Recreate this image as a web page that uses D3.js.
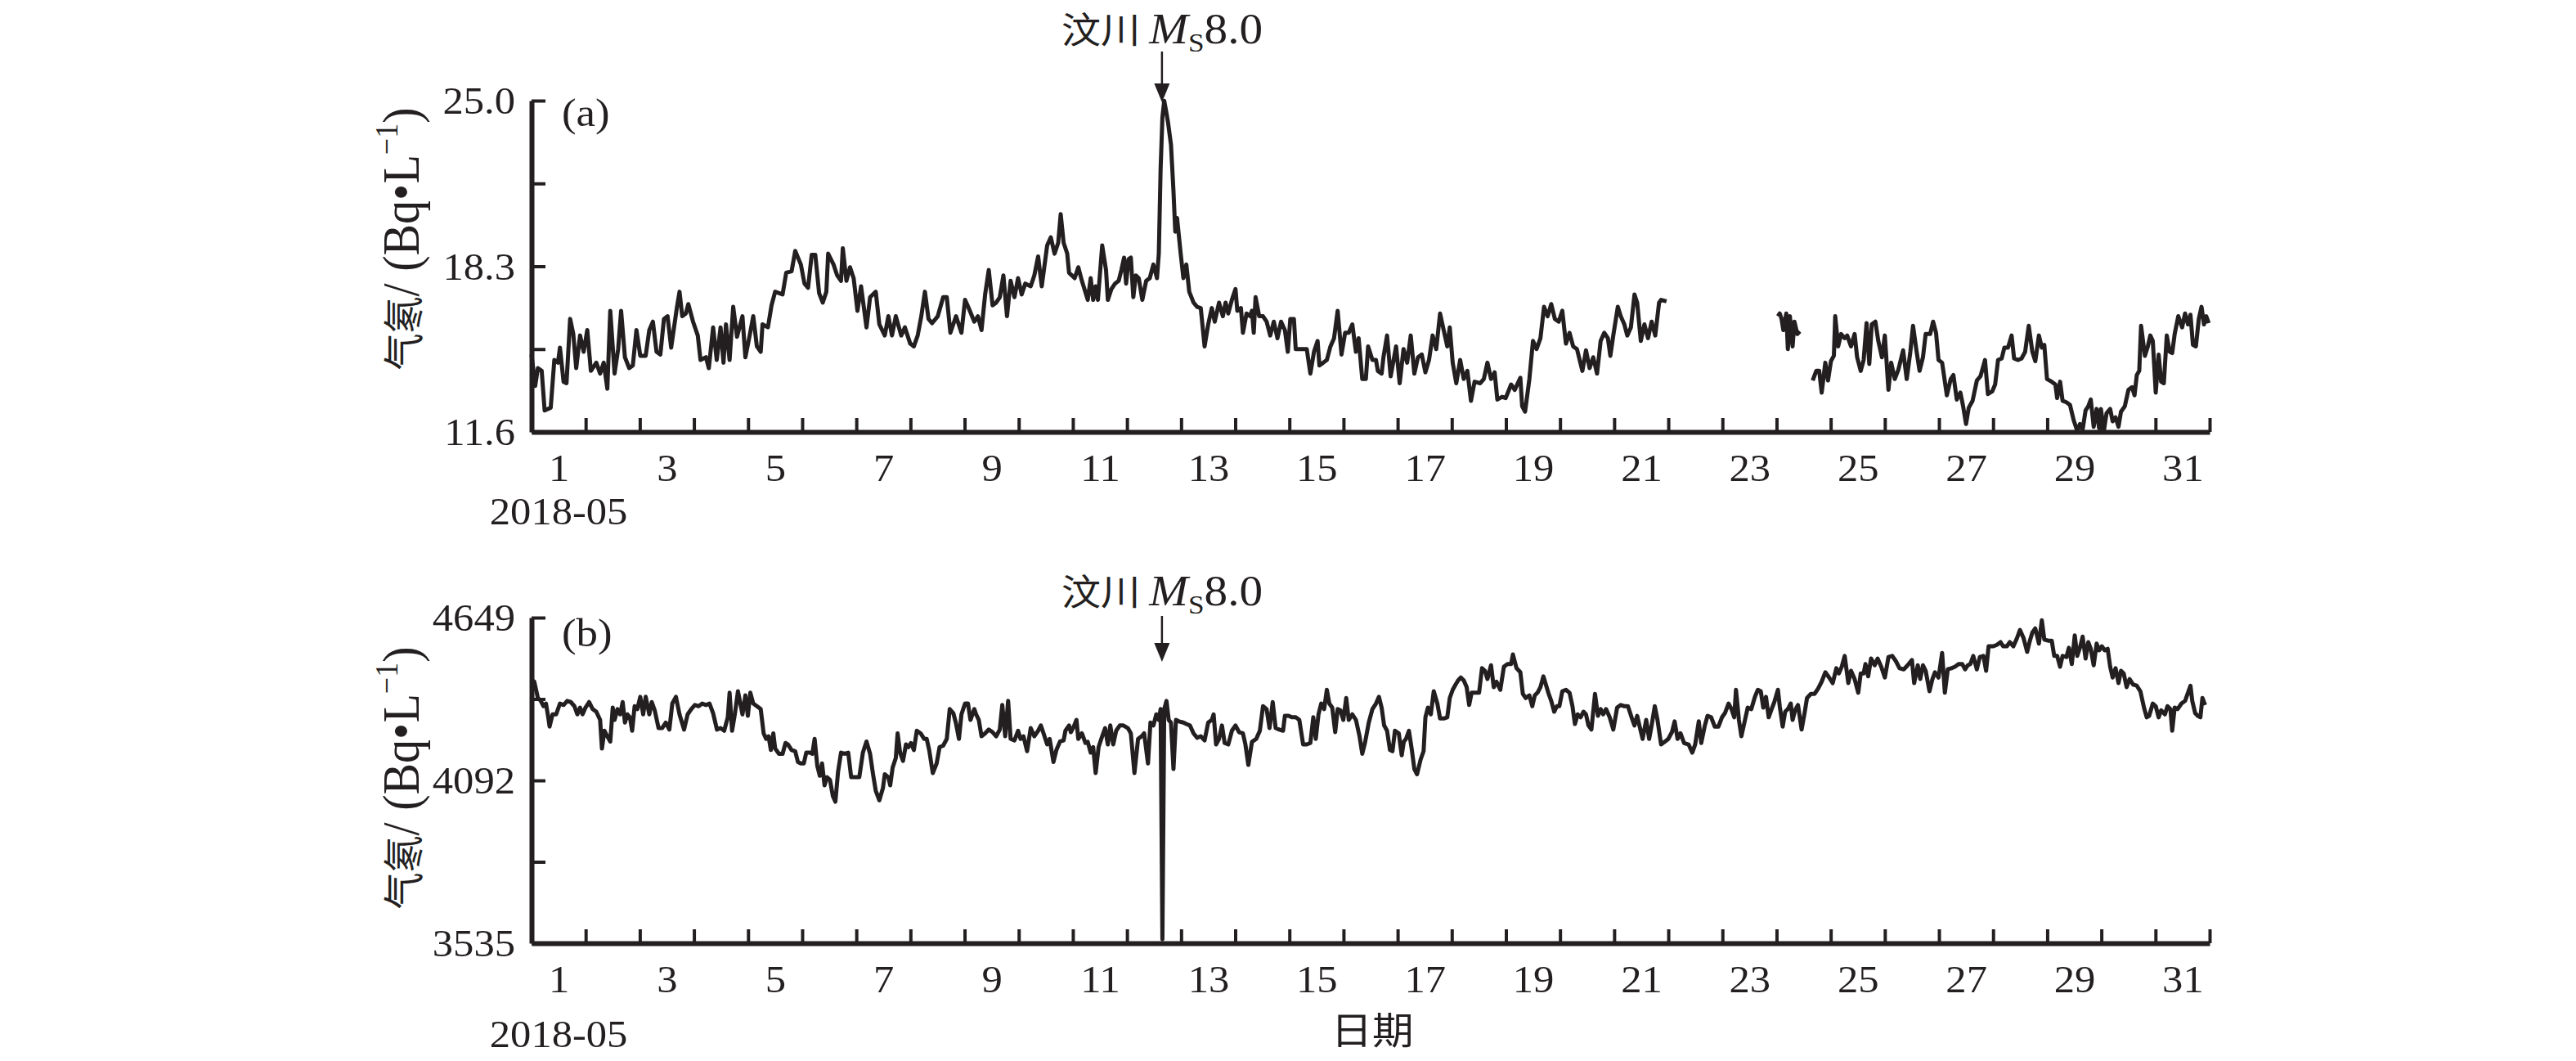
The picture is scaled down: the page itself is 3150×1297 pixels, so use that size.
<!DOCTYPE html>
<html><head><meta charset="utf-8">
<script src="https://cdn.jsdelivr.net/npm/d3@7"></script>
<style>body{margin:0;background:#fff}</style>
</head><body>
<svg id="c" width="3150" height="1297"></svg>
<script>
// ---------- DATA (hours since 2018-05-01 00:00) ----------
const hoursA = [0,1.6,2.8,4.5,5.8,8.5,10.1,11.7,12.6,14.2,15.5,17.1,18.5,19.8,21.5,23.1,24.7,26.3,28.7,30.4,32.0,33.6,34.9,36.8,38.4,39.7,41.4,43.3,44.9,46.5,48.2,50.6,52.2,53.8,55.4,57.1,58.7,60.3,61.9,64.4,65.6,66.8,68.4,69.5,71.6,73.7,74.9,77.3,78.6,80.5,82.1,83.8,85.1,86.2,87.8,89.4,91.1,93.5,94.8,96.7,98.3,99.9,101.6,102.4,104.8,106.4,108.0,111.3,112.9,115.3,116.9,119.4,121.0,122.6,124.2,125.8,127.5,129.1,130.7,131.5,133.9,135.5,137.2,138.0,139.6,141.2,142.8,144.5,146.1,148.5,150.1,152.6,154.2,156.6,158.2,159.8,161.5,163.9,165.5,167.9,169.5,171.2,172.8,174.4,176.0,177.6,180.1,182.5,184.1,185.7,188.2,190.6,192.2,193.8,196.3,197.9,199.5,201.1,202.7,204.4,206.0,207.6,209.2,210.8,212.4,214.1,215.7,217.3,218.9,221.3,222.9,224.6,226.2,228.6,230.2,231.9,233.5,234.6,235.9,237.5,238.3,240.8,242.4,244.0,
246.6,247.9,249.0,250.1,251.1,253.0,254.7,255.5,257.1,258.7,260.3,261.5,262.7,263.6,264.7,265.7,266.8,267.9,269.2,270.8,272.5,274.1,275.7,277.3,278.1,278.9,279.7,280.5,281.4,282.2,283.5,284.6,285.4,286.2,287.8,289.0,290.3,291.6,293.5,295.1,296.7,298.4,300.0,301.6,302.9,304.8,306.5,307.7,308.9,310.5,312.1,312.9,314.5,315.4,317.0,318.6,319.4,320.2,321.0,322.6,324.3,325.9,327.5,329.1,330.7,332.3,334.0,335.3,336.4,338.0,338.8,341.2,343.7,345.3,346.9,348.5,349.3,351.0,352.6,354.2,355.8,357.4,359.1,360.7,362.3,363.9,365.5,366.7,368.3,369.9,370.9,372.8,374.4,375.2,376.9,377.7,379.3,380.9,383.3,384.9,386.6,388.2,389.8,391.4,393.0,394.7,396.3,397.9,399.5,401.1,402.8,404.4,406.0,407.1,408.4,410.0,411.7,413.3,414.9,416.5,418.1,420.6,422.2,423.8,425.4,427.0,428.2,430.3,431.9,434.3,435.9,438.4,439.2,440.5,442.4,444.0,445.6,447.3,448.9,450.5,452.1,453.7,455.4,457.0,458.6,460.2,461.8,463.5,465.9,467.5,469.1,470.7,472.4,474.0,475.6,477.2,478.3,479.6,481.6,482.9,484.5,485.8,487.4,489.0,490.2,491.8,493.4,495.0,496.6,498.2,499.9,500.8,503.2,
528,
552.6,553.4,554.2,555.0,556.3,557.0,557.9,559.1,559.9,561.2,562.3,
565,
568.0,569.6,570.9,572.0,573.6,574.8,576.1,577.4,578.0,579.3,580.6,582.2,583.3,585.0,586.6,587.7,589.3,590.6,591.9,593.1,594.2,595.8,597.1,598.7,600.0,601.6,602.8,604.4,606.0,608.1,609.7,611.3,612.5,614.1,615.4,616.9,618.1,620.1,621.4,622.7,623.8,625.4,627.5,629.2,630.4,631.9,633.5,634.7,636.0,637.2,638.9,640.8,642.4,644.4,645.7,647.6,648.9,650.2,651.8,653.0,654.6,656.2,657.3,659.1,660.6,662.2,663.8,665.4,666.7,668.3,669.6,670.7,671.9,674.0,675.6,676.4,677.7,678.8,680.5,682.1,683.7,685.3,686.5,687.7,689.0,690.2,691.3,692.6,693.9,695.0,695.8,697.1,698.3,699.9,701.0,702.3,703.6,704.7,706.4,708.0,709.6,710.7,711.7,712.8,713.6,715.3,716.6,717.7,718.8,720.1,721.4,722.5,723.7,725.0,726.3,727.4,728.5,730.1,731.8,733.1,734.4,735.5,736.6,737.9,739.2,740.4,741.5,742.5,743.6];
const radonA = [14.73,13.46,14.18,14.07,12.47,12.58,14.51,14.40,15.01,13.63,13.57,16.17,15.56,14.18,15.50,14.84,15.72,14.07,14.40,13.96,14.40,13.35,16.50,13.96,14.95,16.50,14.62,14.18,14.29,15.72,14.68,14.68,15.72,16.06,14.84,14.73,16.17,16.28,15.01,16.61,17.27,16.28,16.39,16.77,16.06,15.50,14.51,14.62,14.18,15.83,14.51,15.83,14.40,15.95,14.51,16.66,15.45,16.28,14.62,15.50,16.28,15.06,14.84,15.95,15.83,16.72,17.27,17.16,18.04,18.10,18.92,18.37,17.60,17.43,18.76,18.76,17.21,16.83,17.27,18.81,18.37,17.93,17.71,19.03,17.71,18.26,17.82,16.50,17.49,15.83,17.05,17.27,15.95,15.50,16.28,15.50,16.28,15.50,15.83,15.17,15.06,15.50,16.28,17.27,16.17,16.00,16.28,17.05,17.05,15.61,16.28,15.61,16.94,16.61,16.06,16.28,15.72,17.16,18.15,16.72,16.83,17.05,17.93,16.28,17.71,17.05,17.82,17.16,17.60,17.49,17.93,18.70,17.49,19.14,19.47,18.81,19.25,20.41,19.25,18.81,18.04,17.82,18.26,17.71,
16.94,17.82,16.94,17.49,16.94,19.14,18.15,16.94,17.38,17.60,17.71,18.15,18.65,17.60,18.59,18.65,17.05,17.93,17.82,16.94,17.71,17.82,18.37,17.82,18.81,22.23,24.33,24.99,24.55,24.11,23.22,21.35,19.70,20.25,18.81,17.82,18.37,17.27,16.83,16.66,16.61,15.06,15.95,16.61,16.06,16.83,16.28,16.83,16.39,16.94,17.38,16.50,16.61,15.61,16.39,16.28,16.50,15.61,17.05,16.28,16.28,16.06,15.50,16.06,15.39,16.06,15.72,14.84,16.17,16.17,14.95,14.95,14.95,13.96,14.84,15.28,14.29,14.40,14.51,15.06,15.39,16.50,14.73,15.61,15.61,15.95,14.84,15.39,13.74,13.74,15.06,14.51,14.51,14.07,13.96,14.62,15.50,13.85,15.06,13.57,14.95,14.40,15.50,13.96,14.62,14.73,14.01,14.51,15.50,14.95,16.39,15.72,15.06,15.83,14.40,13.57,14.51,13.74,14.07,12.86,13.63,13.57,13.74,14.40,13.74,14.01,12.91,13.02,12.97,13.52,13.30,13.79,12.64,12.42,13.74,15.28,14.95,15.39,16.66,16.28,16.77,16.17,16.06,16.50,15.17,15.61,15.06,14.95,14.07,14.90,14.18,14.62,13.96,15.28,15.61,15.39,14.68,15.50,16.66,16.28,15.95,15.50,15.83,17.16,16.83,15.28,15.95,15.39,16.06,15.50,16.83,16.94,16.88,
null,
16.28,16.39,16.17,15.72,16.39,14.95,16.28,15.06,16.06,15.56,15.67,
null,
13.68,14.07,14.07,13.19,14.40,13.68,14.46,14.68,16.28,15.06,15.56,15.39,15.50,15.06,15.56,14.62,14.07,14.51,16.00,14.35,15.95,16.06,15.28,14.62,15.50,13.30,14.40,13.74,14.12,14.90,13.74,14.84,15.89,14.84,14.07,14.62,15.56,15.56,16.06,15.61,14.51,14.40,13.08,13.74,13.90,12.91,13.19,12.64,11.92,12.58,12.86,13.68,13.85,14.51,13.13,13.24,13.52,14.51,14.57,15.01,15.01,15.50,14.57,14.51,14.57,14.84,15.89,14.84,14.46,15.50,15.01,15.12,13.74,13.63,13.52,12.97,13.63,12.86,12.80,12.69,12.08,11.64,11.92,11.70,12.47,12.64,12.91,11.81,12.53,11.75,12.53,11.64,12.36,12.53,12.03,12.19,11.81,12.42,12.64,13.30,13.41,13.08,13.90,14.07,15.89,14.68,15.06,15.50,15.28,13.19,14.73,13.63,13.57,15.50,14.84,14.79,15.56,16.28,15.83,16.39,15.95,16.34,15.12,15.06,16.17,16.66,15.95,16.28,16.00];

const hoursB = [0,1.2,2.0,2.8,4.1,5.3,6.4,7.4,8.0,9.3,10.9,12.6,14.2,15.8,17.4,19.0,20.3,21.5,22.6,23.9,25.5,27.1,28.7,30.4,31.2,32.3,33.6,34.9,36.0,36.8,38.1,39.3,40.4,41.4,42.5,43.6,44.6,45.7,46.9,48.2,49.5,50.6,52.2,53.3,54.6,56.3,57.9,59.5,61.1,62.4,64.0,65.6,67.6,69.2,70.8,72.4,74.1,75.7,77.3,78.9,80.5,82.2,83.8,85.4,87.0,87.8,88.9,90.2,91.5,92.7,93.5,94.8,95.9,97.0,98.3,99.9,101.6,102.9,104.0,105.1,106.1,107.2,108.0,109.7,111.3,112.6,113.7,115.3,116.9,118.1,119.4,120.7,121.8,123.4,124.5,125.5,126.7,127.8,128.8,129.9,131.0,132.3,133.6,134.7,135.9,137.2,138.8,140.4,141.7,143.6,145.3,146.9,148.5,150.1,151.4,152.6,154.2,155.8,156.6,158.2,159.0,160.1,161.5,162.3,163.4,164.7,166.0,167.1,168.2,169.5,170.8,172.5,174.1,175.2,176.3,177.9,179.6,180.9,182.5,184.1,185.4,187.0,188.1,189.5,190.6,192.2,193.5,194.6,196.3,197.1,198.3,199.5,201.1,202.7,204.4,206.0,207.6,208.7,210.0,211.3,212.4,214.1,215.7,216.8,218.1,219.7,221.3,222.9,224.6,225.8,227.0,228.6,229.7,231.4,232.7,234.3,235.9,236.7,238.3,239.1,240.4,241.6,242.4,244.0,245.6,
246.6,247.9,249.0,250.1,251.4,253.0,254.3,255.5,256.6,257.9,259.2,260.8,262.4,264.4,265.7,267.3,268.9,270.5,271.6,273.3,274.4,275.7,277.0,278.1,278.9,279.7,280.5,281.5,282.5,283.5,284.6,285.7,287.0,289.0,290.3,291.9,293.5,295.1,296.7,298.4,300.0,301.6,302.4,303.5,304.8,306.1,307.3,308.9,310.5,312.1,313.7,315.4,316.5,317.8,319.4,321.3,322.9,324.3,325.9,327.2,328.6,329.9,331.5,333.2,334.0,335.6,337.2,338.8,340.4,342.1,343.7,345.3,346.6,347.7,348.9,350.1,351.4,352.6,353.7,355.0,356.3,357.4,358.6,359.9,361.2,362.3,363.9,365.5,367.1,368.3,369.6,371.2,372.8,374.4,375.7,376.9,378.0,379.3,380.6,381.7,382.8,384.5,385.8,386.7,387.7,389.0,390.3,391.4,392.6,394.2,395.5,396.3,397.4,398.7,400.0,401.6,402.8,404.4,406.0,407.1,408.4,409.7,410.8,412.0,413.3,414.6,415.7,416.8,418.5,420.1,421.4,422.7,423.8,425.4,426.6,427.8,429.5,431.1,432.7,434.3,435.1,436.7,438.4,439.5,440.8,442.4,443.7,444.8,446.0,447.3,448.6,449.7,450.8,452.1,453.4,454.6,455.7,457.0,458.6,460.2,461.5,462.6,463.8,465.1,466.4,467.5,468.6,469.9,471.5,472.8,474.0,475.1,476.4,478.0,479.6,481.3,482.9,484.5,486.1,487.7,489.0,490.2,491.3,492.6,494.2,495.5,496.6,
498.0,499.2,500.8,502.4,504.0,505.6,506.8,508.1,509.4,511.0,513.0,514.6,515.9,517.5,518.6,520.2,521.4,523.0,524.6,526.2,527.8,529.1,530.7,532.0,533.2,534.0,535.3,536.4,538.0,539.2,540.8,542.4,543.7,545.0,546.1,547.3,548.5,549.8,551.0,552.6,553.4,554.7,555.8,557.0,558.3,559.1,560.2,561.5,563.1,564.4,565.5,567.2,568.8,570.4,572.0,573.6,575.3,576.9,578.5,579.6,580.9,582.2,583.8,585.0,586.6,588.2,589.3,590.6,591.4,592.6,593.9,595.5,596.8,598.4,600.0,601.6,603.3,604.9,606.5,608.4,610.1,612.0,613.0,614.6,615.7,616.9,618.1,619.8,621.1,622.2,623.8,625.4,626.6,627.9,629.5,631.1,632.7,634.3,635.6,636.8,637.9,639.2,640.8,642.1,643.7,644.9,646.0,648.1,649.7,651.3,652.5,654.1,655.4,657.0,658.6,659.9,661.5,663.1,664.3,665.4,666.7,668.3,669.6,670.7,672.4,674.0,675.1,676.4,677.7,678.8,680.5,681.6,682.9,684.2,685.3,686.5,687.7,689.0,690.2,691.3,692.6,693.9,695.0,696.2,697.5,698.8,699.9,701.0,702.3,703.6,704.7,705.9,707.2,708.5,710.1,711.7,713.3,714.9,716.1,717.2,718.8,720.1,721.4,722.5,724.2,725.3,726.6,727.4,728.5,729.8,731.5,733.1,734.4,735.5,736.3,737.6,738.7,739.9,740.8,742.0];
const radonB = [4435,4430,4402,4374,4364,4346,4355,4308,4276,4318,4318,4355,4350,4364,4360,4346,4318,4341,4318,4341,4360,4336,4327,4299,4201,4262,4243,4225,4341,4299,4336,4318,4360,4290,4318,4308,4262,4346,4336,4378,4318,4378,4318,4360,4332,4271,4271,4290,4266,4355,4378,4318,4266,4318,4336,4350,4346,4355,4350,4355,4322,4266,4271,4262,4308,4392,4262,4322,4397,4350,4318,4383,4313,4392,4355,4346,4336,4253,4234,4243,4196,4253,4201,4183,4183,4220,4215,4196,4192,4155,4150,4150,4187,4187,4183,4234,4141,4108,4150,4075,4103,4094,4038,4019,4122,4187,4183,4187,4103,4103,4103,4187,4225,4183,4113,4057,4024,4066,4113,4103,4075,4136,4169,4253,4187,4159,4215,4206,4220,4196,4262,4253,4234,4234,4196,4117,4150,4206,4211,4234,4336,4322,4290,4234,4318,4355,4355,4299,4336,4318,4299,4243,4253,4266,4257,4243,4266,4350,4243,4364,4234,4229,4262,4234,4243,4192,4271,4243,4262,4280,4253,4215,4234,4155,4196,4225,4229,4262,4280,4257,4276,4299,4234,4253,4220,
4224,4187,4206,4117,4206,4243,4271,4215,4280,4215,4262,4280,4280,4271,4253,4117,4234,4243,4253,4150,4290,4280,4318,4299,4336,3548,4336,4364,4299,4290,4131,4299,4294,4290,4285,4280,4253,4238,4243,4229,4290,4299,4318,4215,4234,4280,4220,4215,4262,4280,4257,4253,4215,4145,4224,4234,4262,4346,4336,4271,4360,4271,4266,4262,4313,4313,4308,4308,4299,4215,4215,4220,4308,4234,4318,4355,4336,4402,4355,4341,4257,4336,4332,4299,4374,4299,4318,4299,4243,4183,4224,4290,4336,4355,4378,4341,4280,4262,4196,4192,4262,4253,4178,4224,4234,4262,4196,4131,4113,4164,4192,4308,4341,4318,4397,4355,4304,4304,4308,4374,4402,4420,4434,4444,4434,4411,4350,4392,4392,4392,4476,4467,4439,4486,4411,4430,4402,4481,4490,4490,4523,4476,4462,4388,4374,4383,4346,4383,4392,4411,4448,4420,4392,4364,4327,4346,4346,4397,4402,4392,4346,4285,4318,4308,4327,4318,4280,4266,4388,4313,4336,4318,4336,4308,4266,4341,4350,4346,4346,4308,4280,4313,4276,4234,4299,4234,4280,
4346,4299,4215,4224,4234,4257,4294,4234,4253,4220,4215,4187,4215,4294,4220,4280,4313,4308,4276,4276,4308,4322,4355,4336,4308,4402,4299,4243,4299,4341,4336,4378,4402,4397,4341,4378,4308,4336,4360,4402,4346,4276,4327,4336,4355,4299,4332,4350,4266,4322,4374,4388,4388,4406,4430,4462,4444,4425,4476,4458,4481,4518,4425,4467,4439,4392,4458,4458,4490,4448,4509,4486,4509,4481,4444,4514,4518,4500,4476,4472,4486,4504,4425,4486,4439,4486,4467,4397,4439,4462,4444,4528,4392,4472,4476,4481,4490,4490,4472,4486,4490,4518,4472,4514,4518,4467,4551,4551,4556,4565,4551,4551,4565,4551,4579,4607,4579,4532,4570,4598,4612,4560,4640,4574,4570,4570,4518,4518,4481,4518,4514,4546,4490,4588,4518,4546,4584,4509,4565,4542,4486,4560,4537,4551,4537,4542,4481,4444,4476,4425,4467,4458,4411,4439,4420,4416,4397,4341,4308,4313,4355,4346,4308,4332,4318,4346,4336,4262,4341,4336,4355,4364,4392,4416,4364,4322,4313,4308,4374,4350];

const dayLabels = ['1','3','5','7','9','11','13','15','17','19','21','23','25','27','29','31'];
const yTicksA = [11.6, 14.95, 18.3, 21.65, 25.0];
const yLabelsA = ['11.6', '', '18.3', '', '25.0'];
const yTicksB = [3535, 3813.5, 4092, 4370.5, 4649];
const yLabelsB = ['3535', '', '4092', '', '4649'];
const monthLabel = '2018-05';
const xTitle = '日期';
const quakeHour = 279.5;
const quakeText = ['汶川', 'M', 'S', '8.0'];

// ---------- DRAW ----------
const INK = '#231f20';
const SERIF = '"Liberation Serif", "Times New Roman", serif';
const CJK = '"Noto Sans CJK SC", sans-serif';
const SX = 1.1;
const svg = d3.select('#c');
svg.append('rect').attr('width', 3150).attr('height', 1297).attr('fill', '#fff');

const x = d3.scaleLinear().domain([0, 744]).range([650, 2702]);
const dayBoundaries = d3.range(1, 32).map(d => d * 24);
const labelHours = dayLabels.map(d => (+d - 0.5) * 24);

const panels = [
  { h: hoursA, v: radonA, y: d3.scaleLinear().domain([11.6, 25.0]).range([528, 123]),
    ticks: yTicksA, labels: yLabelsA, tag: '(a)', tagY: 154, titleY: 292,
    noteY: 53, arrowTop: 63, arrowTip: 125, dateY: 641 },
  { h: hoursB, v: radonB, y: d3.scaleLinear().domain([3535, 4649]).range([1153, 755]),
    ticks: yTicksB, labels: yLabelsB, tag: '(b)', tagY: 790, titleY: 951,
    noteY: 740, arrowTop: 753, arrowTip: 809, dateY: 1280 }
];

function stext(parent, tx, ty, anchor, size, family) {
  return parent.append('g').attr('transform', `translate(${tx},${ty}) scale(${SX},1)`)
    .append('text').attr('text-anchor', anchor).attr('font-size', size)
    .attr('font-family', family).attr('fill', INK);
}

panels.forEach(p => {
  const g = svg.append('g');
  const base = p.y.range()[0];

  // data line
  const pts = p.h.map((h, i) => ({ h, v: p.v[i] }));
  g.append('path').datum(pts)
    .attr('d', d3.line().defined(d => d.v != null).x(d => x(d.h)).y(d => p.y(d.v)))
    .attr('fill', 'none').attr('stroke', INK).attr('stroke-width', 5)
    .attr('stroke-linejoin', 'round');

  // x axis ticks (inward)
  const gx = g.append('g').attr('transform', `translate(0,${base})`)
    .call(d3.axisBottom(x).tickValues(dayBoundaries).tickSize(-17).tickSizeOuter(0).tickFormat(''));
  gx.select('.domain').attr('stroke', INK).attr('stroke-width', 6);
  gx.selectAll('.tick line').attr('stroke', INK).attr('stroke-width', 4);

  // x labels
  const gl = g.append('g').attr('transform', `translate(0,${base})`)
    .call(d3.axisBottom(x).tickValues(labelHours).tickSize(0).tickFormat((d, i) => dayLabels[i]));
  gl.select('.domain').remove();
  gl.attr('font-family', null).attr('font-size', null);
  gl.selectAll('.tick text').attr('y', null).attr('dy', null)
    .attr('transform', `translate(0,60) scale(${SX},1)`)
    .attr('font-family', SERIF).attr('font-size', 46).attr('fill', INK);

  // y axis
  const gy = g.append('g').attr('transform', `translate(${x(0)},0)`)
    .call(d3.axisLeft(p.y).tickValues(p.ticks).tickSize(-17).tickSizeOuter(0).tickFormat((d, i) => p.labels[i]));
  gy.attr('font-family', null).attr('font-size', null);
  gy.select('.domain').attr('stroke', INK).attr('stroke-width', 6);
  gy.selectAll('.tick line').attr('stroke', INK).attr('stroke-width', 4);
  gy.selectAll('.tick text').attr('x', null).attr('dy', null)
    .attr('transform', `translate(-20,15.5) scale(${SX},1)`)
    .attr('font-family', SERIF).attr('font-size', 46).attr('fill', INK);

  // panel tag
  stext(g, 687, p.tagY, 'start', 48, SERIF).text(p.tag);

  // month label
  stext(g, x(12), p.dateY, 'middle', 46, SERIF).text(monthLabel);

  // y title (rotated)
  const tg = g.append('g').attr('transform', `translate(512,${p.titleY}) scale(${SX},1) rotate(-90)`);
  const tt = tg.append('text').attr('text-anchor', 'middle').attr('fill', INK).attr('font-family', SERIF).attr('font-size', 58);
  tt.append('tspan').attr('font-family', CJK).attr('font-size', 45).text('气氡');
  tt.append('tspan').text('/ (Bq•L');
  tt.append('tspan').attr('font-size', 36).attr('dy', -24).text('−1');
  tt.append('tspan').attr('dy', 24).text(')');

  // quake annotation
  const qx = x(quakeHour);
  const nt = stext(g, qx, p.noteY, 'middle', 52, SERIF);
  nt.append('tspan').attr('font-family', CJK).attr('font-size', 44).text(quakeText[0] + ' ');
  nt.append('tspan').attr('font-style', 'italic').text(quakeText[1]);
  nt.append('tspan').attr('font-size', 32).attr('dy', 10).text(quakeText[2]);
  nt.append('tspan').attr('dy', -10).text(quakeText[3]);
  g.append('line').attr('x1', qx).attr('x2', qx).attr('y1', p.arrowTop).attr('y2', p.arrowTip - 18)
    .attr('stroke', INK).attr('stroke-width', 2.5);
  g.append('path')
    .attr('d', `M${qx - 9.5},${p.arrowTip - 23}L${qx + 9.5},${p.arrowTip - 23}L${qx},${p.arrowTip}Z`)
    .attr('fill', INK);
});

// x title
stext(svg, 1678, 1276, 'middle', 46, CJK).text(xTitle);
</script>
</body></html>
